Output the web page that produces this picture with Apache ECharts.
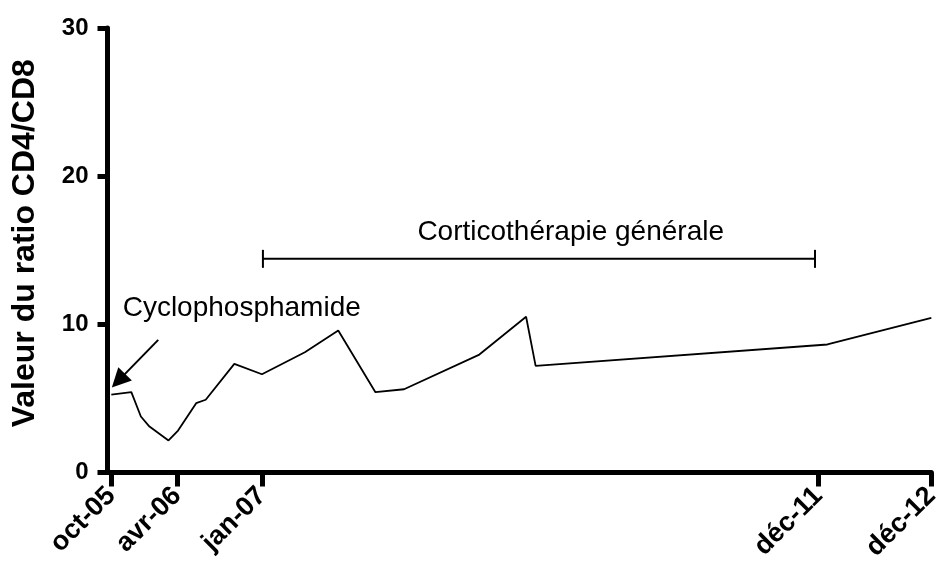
<!DOCTYPE html>
<html>
<head>
<meta charset="utf-8">
<script src="https://cdn.jsdelivr.net/npm/echarts@6/dist/echarts.min.js"></script>
<style>
  html, body { margin: 0; padding: 0; background: #fff; }
  #chart { width: 943px; height: 570px; }
</style>
</head>
<body>
<div id="chart"></div>
<script>
// months counted from oct-05
const monthX = [0, 2.1, 3.1, 4, 6, 7, 8.9, 9.9, 12.9, 15.8, 20.3, 23.8, 27.7, 30.7, 38.6, 43.5, 44.5, 75.1, 86]
const ratio = [5.26, 5.42, 3.78, 3.1, 2.16, 2.83, 4.68, 4.91, 7.33, 6.63, 8.12, 9.58, 5.42, 5.62, 7.96, 10.51, 7.2, 8.64, 10.44]

const tickMonths = [0, 6.9, 15.8, 74.15, 86]
const tickLabels = ['oct-05', 'avr-06', 'jan-07', 'déc-11', 'déc-12']

// treatment bracket: [from, to, level]
const bracket = [[15.9, 73.8, 14.42]]
const noteLabels = ['Cyclophosphamide', 'Corticothérapie générale']
const notePos = [[1.19, 11.11], [32.1, 16.18]]
// arrow to start of cyclophosphamide
const arrowFrom = [4.92, 8.95]
const arrowTo = [0.75, 6.2]

const font = "'Liberation Sans', Arial, Helvetica, sans-serif"

const chart = echarts.init(document.getElementById('chart'), null, { renderer: 'canvas' })

chart.setOption({
  animation: false,
  textStyle: { fontFamily: font, color: '#000' },
  grid: { left: 107.5, right: 9.7, top: 28, bottom: 97.5 },
  xAxis: {
    type: 'value',
    min: -0.4,
    max: 86,
    splitLine: { show: false },
    axisLine: { onZero: false, lineStyle: { color: '#000', width: 5 } },
    axisTick: { customValues: tickMonths, length: 14, lineStyle: { color: '#000', width: 5 } },
    axisLabel: {
      customValues: tickMonths,
      rotate: 45,
      margin: 19,
      fontSize: 27,
      fontWeight: 'bold',
      fontFamily: font,
      color: '#000',
      formatter: v => {
        const i = tickMonths.indexOf(v)
        return i >= 0 ? tickLabels[i] : ''
      }
    }
  },
  yAxis: {
    type: 'value',
    min: 0,
    max: 30,
    interval: 10,
    name: 'Valeur du ratio CD4/CD8',
    nameLocation: 'middle',
    nameGap: 66,
    nameTextStyle: { fontSize: 32, fontWeight: 'bold', fontFamily: font, color: '#000', padding: [0, 0, 0, 14] },
    splitLine: { show: false },
    axisLine: { onZero: false, lineStyle: { color: '#000', width: 5 } },
    axisTick: { length: 10, lineStyle: { color: '#000', width: 5 } },
    axisLabel: { margin: 19, fontSize: 24, fontWeight: 'bold', fontFamily: font, color: '#000' }
  },
  series: [
    {
      name: 'ratio',
      type: 'line',
      data: monthX.map((m, i) => [m, ratio[i]]),
      showSymbol: false,
      symbol: 'none',
      lineStyle: { color: '#000', width: 1.8 },
      markLine: {
        silent: true,
        label: { show: false },
        lineStyle: { color: '#000', width: 2, type: 'solid' },
        data: [[
          { coord: arrowFrom, symbol: 'none' },
          { coord: arrowTo, symbol: 'triangle', symbolSize: 19 }
        ]]
      }
    },
    {
      name: 'bracket',
      type: 'custom',
      silent: true,
      data: bracket,
      renderItem(params, api) {
        const a = api.coord([api.value(0), api.value(2)])
        const b = api.coord([api.value(1), api.value(2)])
        const st = { stroke: '#000', lineWidth: 2 }
        return {
          type: 'group',
          children: [
            { type: 'line', shape: { x1: a[0], y1: a[1], x2: b[0], y2: b[1] }, style: st },
            { type: 'line', shape: { x1: a[0], y1: a[1] - 9, x2: a[0], y2: a[1] + 9 }, style: st },
            { type: 'line', shape: { x1: b[0], y1: b[1] - 9, x2: b[0], y2: b[1] + 9 }, style: st }
          ]
        }
      }
    },
    {
      name: 'notes',
      type: 'custom',
      silent: true,
      data: notePos,
      renderItem(params, api) {
        const p = api.coord([api.value(0), api.value(1)])
        return {
          type: 'text',
          x: p[0],
          y: p[1],
          style: {
            text: noteLabels[params.dataIndex],
            fontSize: 28,
            fontFamily: font,
            fill: '#000',
            align: 'left',
            verticalAlign: 'middle'
          }
        }
      }
    }
  ]
})
</script>
</body>
</html>
